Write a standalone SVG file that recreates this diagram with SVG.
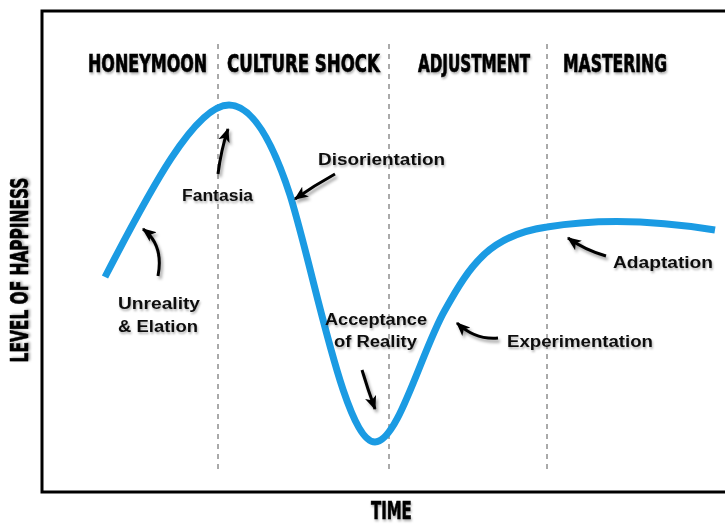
<svg xmlns="http://www.w3.org/2000/svg" width="725" height="524" viewBox="0 0 725 524">
<style>
.frame{fill:none;stroke:#000;stroke-width:3}
.div{stroke:#555;stroke-width:1;stroke-dasharray:5,5}
.curve{fill:none;stroke:#1b9be3;stroke-width:7;stroke-linecap:butt}
.arr{fill:none;stroke:#000;stroke-width:3;marker-end:url(#head)}
.hdr{font-family:"DejaVu Sans Condensed","DejaVu Sans",sans-serif;font-weight:bold;font-size:24px;fill:#000;stroke:#000;stroke-width:0.6}
.lbl{font-family:"Liberation Sans",Arial,sans-serif;font-weight:bold;font-size:16px;fill:#111}
</style>
<defs>
<filter id="sh" x="-20%" y="-20%" width="140%" height="160%">
<feDropShadow dx="2" dy="3" stdDeviation="1.5" flood-color="#000" flood-opacity="0.35"/>
</filter>
<filter id="tsh" x="-10%" y="-20%" width="120%" height="160%">
<feDropShadow dx="1" dy="2" stdDeviation="1" flood-color="#000" flood-opacity="0.3"/>
</filter>
<marker id="head" viewBox="0 0 12 12" refX="11" refY="6" markerWidth="14" markerHeight="14" markerUnits="userSpaceOnUse" orient="auto">
<path d="M0,1 L12,6 L0,11 L3,6 z" fill="#000"/>
</marker>
</defs>
<rect x="0" y="0" width="725" height="524" fill="#fff"/>
<g id="axes">
<path class="frame" d="M727,11 L42,11 L42,492 L727,492"/>
<text class="hdr" transform="translate(28,270) rotate(-90) scale(0.8,1)" text-anchor="middle" textLength="231" lengthAdjust="spacingAndGlyphs" filter="url(#tsh)">LEVEL OF HAPPINESS</text>
<text class="hdr" transform="translate(371,519) scale(0.8,1)" textLength="51" lengthAdjust="spacingAndGlyphs" filter="url(#tsh)">TIME</text>
</g>
<g id="dividers">
<line class="div" x1="218" y1="44" x2="218" y2="470"/>
<line class="div" x1="389" y1="44" x2="389" y2="470"/>
<line class="div" x1="547" y1="44" x2="547" y2="470"/>
</g>
<g id="phases" filter="url(#tsh)">
<text id="honeymoon" class="hdr" transform="translate(88,72) scale(0.8,1)" textLength="149" lengthAdjust="spacingAndGlyphs">HONEYMOON</text>
<text id="culture-shock" class="hdr" transform="translate(227,72) scale(0.8,1)" textLength="191" lengthAdjust="spacingAndGlyphs">CULTURE SHOCK</text>
<text id="adjustment" class="hdr" transform="translate(418,72) scale(0.8,1)" textLength="140" lengthAdjust="spacingAndGlyphs">ADJUSTMENT</text>
<text id="mastering" class="hdr" transform="translate(563,72) scale(0.8,1)" textLength="130" lengthAdjust="spacingAndGlyphs">MASTERING</text>
</g>
<g id="curve">
<path class="curve" d="M105,277 C150,190 195,105 229,105 C252,105 272,140 290,195 C315,275 345,442 375,442 C398,442 422,350 445,310 C470,265 490,235 547,227 C600,218 660,221 715,230"/>
</g>
<g id="connectors" filter="url(#sh)">
<path class="arr" d="M158,276 Q164,245 143,229"/>
<path class="arr" d="M218,174 Q221,150 228,129"/>
<path class="arr" d="M335,174 Q315,185 295,199"/>
<path class="arr" d="M362,370 Q368,390 375,409"/>
<path class="arr" d="M498,338 Q475,340 457,323"/>
<path class="arr" d="M606,256 Q585,250 568,238"/>
</g>
<g id="labels" filter="url(#tsh)">
<g id="n-unreality"><text class="lbl" x="118" y="309" textLength="82" lengthAdjust="spacingAndGlyphs">Unreality</text><text class="lbl" x="118" y="332" textLength="80" lengthAdjust="spacingAndGlyphs">&amp; Elation</text></g>
<g id="n-fantasia"><text class="lbl" x="182" y="201" textLength="71" lengthAdjust="spacingAndGlyphs">Fantasia</text></g>
<g id="n-disorientation"><text class="lbl" x="318" y="165" textLength="127" lengthAdjust="spacingAndGlyphs">Disorientation</text></g>
<g id="n-acceptance"><text class="lbl" x="325" y="325" textLength="102" lengthAdjust="spacingAndGlyphs">Acceptance</text><text class="lbl" x="334" y="347" textLength="83" lengthAdjust="spacingAndGlyphs">of Reality</text></g>
<g id="n-experimentation"><text class="lbl" x="507" y="347" textLength="146" lengthAdjust="spacingAndGlyphs">Experimentation</text></g>
<g id="n-adaptation"><text class="lbl" x="613" y="268" textLength="100" lengthAdjust="spacingAndGlyphs">Adaptation</text></g>
</g>
</svg>
